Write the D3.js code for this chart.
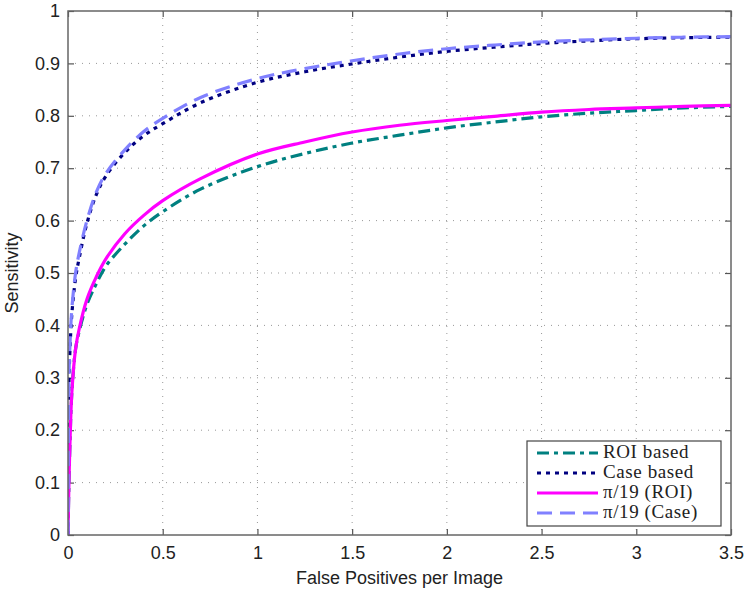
<!DOCTYPE html>
<html>
<head>
<meta charset="utf-8">
<script src="https://cdn.jsdelivr.net/npm/d3@7"></script>
<style>
body{margin:0;background:#fff;}
</style>
</head>
<body>
<svg id="Chart" width="750" height="594"></svg>
<script>
// false positives per image (x) for each curve
var fpROI   = [0, 0.005, 0.01, 0.02, 0.04, 0.06, 0.1, 0.15, 0.2, 0.3, 0.4, 0.5, 0.7, 1, 1.25, 1.5, 1.75, 2, 2.25, 2.5, 2.75, 3, 3.25, 3.5];
var roiBased  = [0, 0.10, 0.17, 0.27, 0.355, 0.39, 0.44, 0.48, 0.513, 0.555, 0.59, 0.617, 0.66, 0.703, 0.728, 0.748, 0.763, 0.777, 0.788, 0.798, 0.805, 0.81, 0.815, 0.818];
var piROI     = [0, 0.10, 0.17, 0.27, 0.355, 0.395, 0.45, 0.493, 0.527, 0.575, 0.61, 0.638, 0.68, 0.727, 0.75, 0.769, 0.782, 0.791, 0.799, 0.807, 0.812, 0.815, 0.818, 0.82];

var fpCase  = [0, 0.002, 0.005, 0.01, 0.02, 0.04, 0.06, 0.1, 0.15, 0.2, 0.3, 0.4, 0.5, 0.7, 1, 1.25, 1.5, 1.75, 2, 2.25, 2.5, 2.75, 3, 3.25, 3.5];
var caseBased = [0, 0.2, 0.29, 0.35, 0.42, 0.49, 0.53, 0.595, 0.65, 0.685, 0.73, 0.762, 0.785, 0.825, 0.864, 0.884, 0.899, 0.912, 0.923, 0.931, 0.938, 0.943, 0.947, 0.949, 0.95];
var piCase    = [0, 0.2, 0.30, 0.36, 0.43, 0.50, 0.54, 0.60, 0.655, 0.69, 0.735, 0.77, 0.795, 0.835, 0.871, 0.89, 0.905, 0.918, 0.928, 0.935, 0.941, 0.945, 0.948, 0.95, 0.951];

var xTicks = [0, 0.5, 1, 1.5, 2, 2.5, 3, 3.5];
var yTicks = [0, 0.1, 0.2, 0.3, 0.4, 0.5, 0.6, 0.7, 0.8, 0.9, 1];

var series = [
	{name: "ROI based",     xs: fpROI,  ys: roiBased,  color: "#008080", dash: "12,5,4,5"},
	{name: "Case based",    xs: fpCase, ys: caseBased, color: "#000080", dash: "4,5"},
	{name: "\u03c0/19 (ROI)",  xs: fpROI,  ys: piROI,     color: "#ff00ff", dash: null},
	{name: "\u03c0/19 (Case)", xs: fpCase, ys: piCase,    color: "#8080ff", dash: "15,8"}
];

var pLeft = 68, pRight = 731, pTop = 11, pBottom = 535;
var sans = "'Liberation Sans', Arial, sans-serif";
var serif = "'Liberation Serif', 'Times New Roman', serif";

var svg = d3.select("#Chart");
var x = d3.scaleLinear().domain([0, 3.5]).range([pLeft, pRight]);
var y = d3.scaleLinear().domain([0, 1]).range([pBottom, pTop]);

// grid
var grid = svg.append("g").attr("stroke", "#999").attr("stroke-width", 1).attr("stroke-dasharray", "1,6");
grid.selectAll(".gx").data(xTicks.slice(1, -1)).enter().append("line")
	.attr("x1", function(d){ return x(d); }).attr("x2", function(d){ return x(d); })
	.attr("y1", pTop).attr("y2", pBottom);
grid.selectAll(".gy").data(yTicks.slice(1, -1)).enter().append("line")
	.attr("y1", function(d){ return y(d); }).attr("y2", function(d){ return y(d); })
	.attr("x1", pLeft).attr("x2", pRight);

// axes with inward ticks
function styleAxis(g){
	g.select(".domain").remove();
	g.selectAll(".tick line").attr("stroke", "#555").attr("stroke-width", 1.2);
	g.selectAll(".tick text").style("font-size", "18px").attr("fill", "#222")
		.style("font-family", sans);
}
var fmt = function(d){ return d3.format("~g")(d); };
svg.append("g").attr("transform", "translate(0," + pBottom + ")")
	.call(d3.axisBottom(x).tickValues(xTicks).tickSize(-6).tickPadding(11).tickFormat(fmt))
	.call(styleAxis);
svg.append("g").attr("transform", "translate(0," + pTop + ")")
	.call(d3.axisTop(x).tickValues(xTicks).tickSize(-6).tickFormat(""))
	.call(styleAxis);
svg.append("g").attr("transform", "translate(" + pLeft + ",0)")
	.call(d3.axisLeft(y).tickValues(yTicks).tickSize(-6).tickPadding(8).tickFormat(fmt))
	.call(styleAxis);
svg.append("g").attr("transform", "translate(" + pRight + ",0)")
	.call(d3.axisRight(y).tickValues(yTicks).tickSize(-6).tickFormat(""))
	.call(styleAxis);

// curves
svg.append("clipPath").attr("id", "plotclip").append("rect")
	.attr("x", pLeft).attr("y", pTop - 4).attr("width", pRight - pLeft).attr("height", pBottom - pTop + 4);

var line = d3.line().curve(d3.curveCatmullRom.alpha(0.5));
var curves = svg.append("g").attr("clip-path", "url(#plotclip)");
series.forEach(function(s){
	var pts = s.xs.map(function(v, i){ return [x(v), y(s.ys[i])]; });
	curves.append("path")
		.attr("d", line(pts))
		.attr("fill", "none")
		.attr("stroke", s.color)
		.attr("stroke-width", 3.2)
		.attr("stroke-dasharray", s.dash);
});

// frame
svg.append("rect").attr("x", pLeft).attr("y", pTop).attr("width", pRight - pLeft).attr("height", pBottom - pTop)
	.attr("fill", "none").attr("stroke", "#666").attr("stroke-width", 1.5);

// axis titles
svg.append("text").attr("x", (pLeft + pRight) / 2).attr("y", 584)
	.attr("text-anchor", "middle").style("font-size", "18px").style("font-family", sans).attr("fill", "#222")
	.text("False Positives per Image");
svg.append("text").attr("transform", "translate(18," + ((pTop + pBottom) / 2) + ") rotate(-90)")
	.attr("text-anchor", "middle").style("font-size", "18px").style("font-family", sans).attr("fill", "#222")
	.text("Sensitivity");

// legend
var lg = svg.append("g");
lg.append("rect").attr("x", 527).attr("y", 441).attr("width", 194).attr("height", 85)
	.attr("fill", "#fff").attr("stroke", "#444").attr("stroke-width", 1.2);
series.forEach(function(s, i){
	var cy = 453 + i * 20;
	lg.append("line").attr("x1", 537).attr("x2", 598).attr("y1", cy).attr("y2", cy)
		.attr("stroke", s.color).attr("stroke-width", 3.2).attr("stroke-dasharray", s.dash);
	lg.append("text").attr("x", 603).attr("y", cy + 5)
		.style("font-family", serif)
		.style("font-size", "19px").style("letter-spacing", "0.6px").attr("fill", "#222")
		.text(s.name);
});
</script>
</body>
</html>
